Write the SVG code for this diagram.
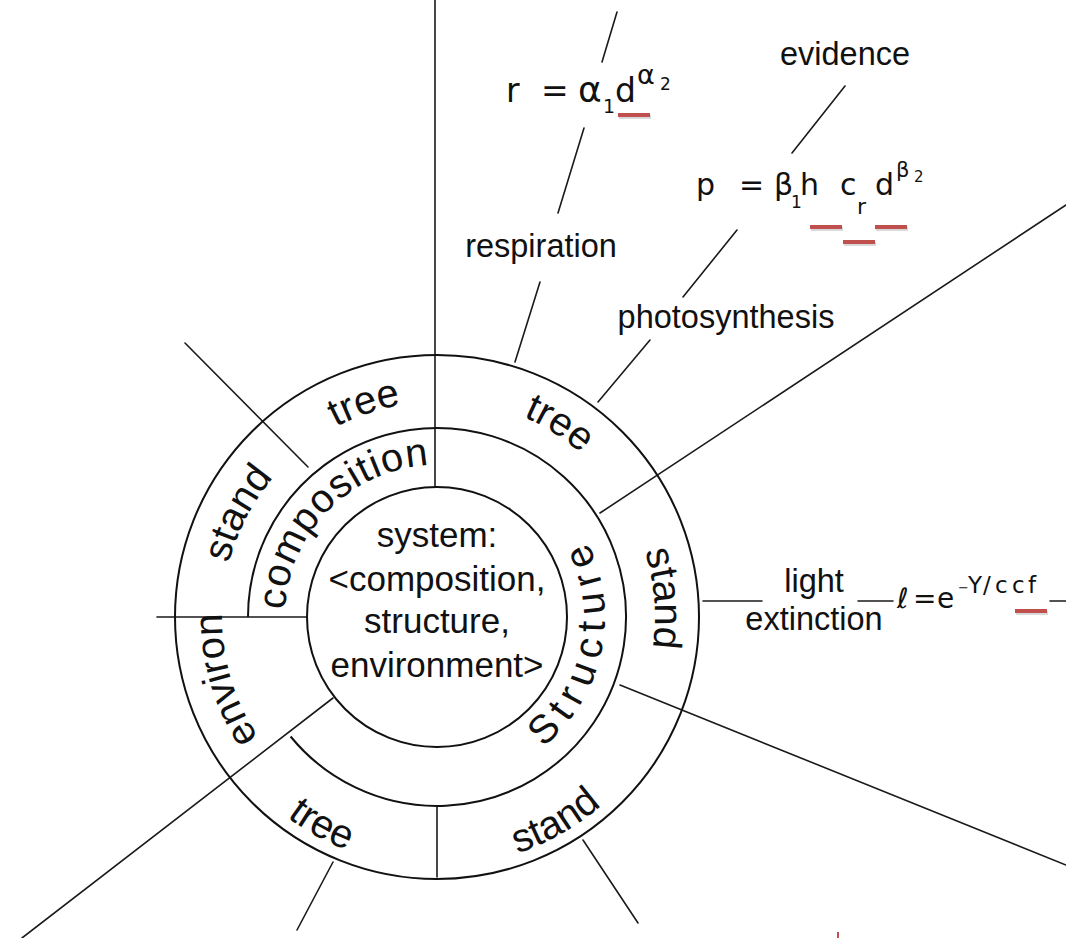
<svg xmlns="http://www.w3.org/2000/svg" width="1066" height="938" viewBox="0 0 1066 938">
<defs>
<style>
.ln{stroke:#1a1a1a;stroke-width:1.6;fill:none;stroke-linecap:round}
.circ{stroke:#111;stroke-width:2;fill:none}
.lbl{font-family:"Liberation Sans",Arial,sans-serif;font-size:32.5px;fill:#111;text-anchor:middle}
.ring{font-family:"Liberation Sans",Arial,sans-serif;font-size:40px;fill:#111}
.core{font-family:"Liberation Sans",Arial,sans-serif;font-size:35px;fill:#111;text-anchor:middle}
.fm{font-family:"DejaVu Sans","Noto Sans",sans-serif;fill:#111}
.ul{fill:#c0504d}
.uls{fill:#000;opacity:.15}
</style>
<path id="pTreeUL" d="M226.1,575.2 A215,215 0 0 1 578.6,455.2"/>
<path id="pStandUL" d="M255.7,732.5 A215,215 0 0 1 427.6,402.2"/>
<path id="pTreeUR" d="M336,423.8 A218,218 0 0 1 654.8,626.1"/>
<path id="pStandR" d="M530.2,419.9 A218,218 0 0 1 561.1,796.2"/>
<path id="pEnviron" d="M386.8,826.1 A215,215 0 0 1 281,469"/>
<path id="pTreeBL" d="M187,621.4 A250,250 0 0 0 565.8,831.3"/>
<path id="pStandBR" d="M312,833.5 A250,250 0 0 0 687,617"/>
<path id="pComp" d="M299.2,681.2 A152,152 0 0 1 501.2,479.2"/>
<path id="pStruct" d="M463.9,782.8 A168,168 0 0 0 523,472.7"/>
</defs>
<rect width="1066" height="938" fill="#fff"/>

<g id="connectors">
<path class="ln" d="M435,0 V487"/>
<path class="ln" d="M157,617 H307"/>
<path class="ln" d="M185,343 L308,467"/>
<path class="ln" d="M600,513 L1066,205"/>
<path class="ln" d="M703,601 H762 M858,601 H893 M1050,601 H1066"/>
<path class="ln" d="M620,685 L1066,865"/>
<path class="ln" d="M583,840 L638,923"/>
<path class="ln" d="M437,807 V877"/>
<path class="ln" d="M333,698 L22,938"/>
<path class="ln" d="M333,862 L297,930"/>
<path class="ln" d="M515,362 L540,282 M558,213 L584,128 M602,62 L617,12"/>
<path class="ln" d="M598,402 L650,340 M683,297 L737,230 M792,153 L845,86"/>
</g>

<g id="outer-ring">
<circle class="circ" cx="437" cy="617" r="262"/>
<text class="ring" text-anchor="middle"><textPath href="#pTreeUL" startOffset="50%">tree</textPath></text>
<text class="ring" text-anchor="middle"><textPath href="#pStandUL" startOffset="50%">stand</textPath></text>
<text class="ring" text-anchor="middle"><textPath href="#pTreeUR" startOffset="50%">tree</textPath></text>
<text class="ring" text-anchor="middle"><textPath href="#pStandR" startOffset="50%">stand</textPath></text>
<text class="ring" text-anchor="middle"><textPath href="#pEnviron" startOffset="50%">environ</textPath></text>
<text class="ring" text-anchor="middle"><textPath href="#pTreeBL" startOffset="50%">tree</textPath></text>
<text class="ring" text-anchor="middle"><textPath href="#pStandBR" startOffset="50%">stand</textPath></text>
</g>

<g id="middle-ring">
<path class="circ" d="M248,617 A189,189 0 1 1 290.6,736.5"/>
<text class="ring" text-anchor="middle" letter-spacing="1"><textPath href="#pComp" startOffset="50%">composition</textPath></text>
<text class="ring" text-anchor="middle" letter-spacing="8"><textPath href="#pStruct" startOffset="50%">Structure</textPath></text>
</g>

<g id="system">
<circle class="circ" cx="437" cy="617" r="130"/>
<text class="core"><tspan x="437" y="547">system:</tspan><tspan x="437" y="591">&lt;composition,</tspan><tspan x="437" y="633">structure,</tspan><tspan x="437" y="677">environment&gt;</tspan></text>
</g>

<g id="label-respiration"><text class="lbl" x="541" y="257">respiration</text></g>
<g id="label-photosynthesis"><text class="lbl" x="726" y="328">photosynthesis</text></g>
<g id="label-evidence"><text class="lbl" x="845" y="65">evidence</text></g>
<g id="label-light"><text class="lbl"><tspan x="814" y="592">light</tspan><tspan x="814" y="630">extinction</tspan></text></g>

<g id="formula-r">
<text class="fm" font-size="33"><tspan x="506" y="102">r</tspan><tspan x="541" y="102">=</tspan><tspan x="578" y="102" font-size="36">α</tspan><tspan x="603" y="113" font-size="19">1</tspan><tspan x="615" y="102">d</tspan><tspan x="637" y="84" font-size="27">α</tspan><tspan x="660" y="90" font-size="17">2</tspan></text>
<rect class="uls" x="619" y="115" width="32" height="4"/>
<rect class="ul" x="618" y="113" width="32" height="4"/>
</g>

<g id="formula-p">
<text class="fm" font-size="30"><tspan x="696" y="195">p</tspan><tspan x="739" y="195">=</tspan><tspan x="774" y="195">β</tspan><tspan x="791" y="208" font-size="17">1</tspan><tspan x="800" y="195">h</tspan><tspan x="840" y="195">c</tspan><tspan x="857" y="214" font-size="22">r</tspan><tspan x="875" y="195">d</tspan><tspan x="896" y="177" font-size="21">β</tspan><tspan x="914" y="182" font-size="15">2</tspan></text>
<rect class="uls" x="811" y="227" width="32" height="4"/>
<rect class="ul" x="810" y="225" width="32" height="4"/>
<rect class="uls" x="844" y="242" width="32" height="4"/>
<rect class="ul" x="843" y="240" width="32" height="4"/>
<rect class="uls" x="876" y="227" width="32" height="4"/>
<rect class="ul" x="875" y="225" width="32" height="4"/>
</g>

<g id="formula-light">
<text class="fm" font-size="28"><tspan x="897" y="608" font-style="italic">ℓ</tspan><tspan x="913" y="608">=</tspan><tspan x="937" y="608">e</tspan><tspan x="958" y="592" font-size="13">−</tspan><tspan y="593" font-size="23" x="968 983 995 1012 1028">Y/ccf</tspan></text>
<rect class="uls" x="1016" y="611" width="32" height="4"/>
<rect class="ul" x="1015" y="609" width="32" height="4"/>
</g>

<rect class="ul" x="837" y="932" width="2" height="6"/>
</svg>
